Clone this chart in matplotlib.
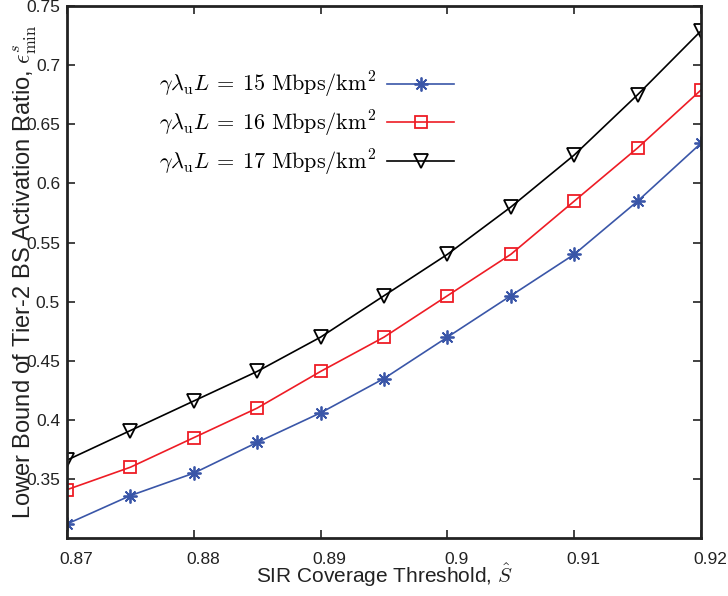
import matplotlib
matplotlib.use("Agg")
import matplotlib.pyplot as plt
import matplotlib.transforms as mtransforms

plt.rcParams['font.family'] = ['Liberation Sans', 'DejaVu Sans']
plt.rcParams['mathtext.fontset'] = 'cm'

x = [0.87, 0.875, 0.88, 0.885, 0.89, 0.895, 0.90, 0.905, 0.91, 0.915, 0.92]
y15 = [0.312, 0.336, 0.355, 0.381, 0.406, 0.435, 0.470, 0.505, 0.540, 0.585, 0.634]
y16 = [0.341, 0.360, 0.385, 0.410, 0.441, 0.470, 0.505, 0.540, 0.585, 0.630, 0.679]
y17 = [0.366, 0.391, 0.416, 0.441, 0.470, 0.505, 0.540, 0.580, 0.624, 0.675, 0.729]
labels = [r'$\gamma\lambda_{\mathrm{u}}L\:=\:15\ \mathrm{Mbps/km}^2$',
          r'$\gamma\lambda_{\mathrm{u}}L\:=\:16\ \mathrm{Mbps/km}^2$',
          r'$\gamma\lambda_{\mathrm{u}}L\:=\:17\ \mathrm{Mbps/km}^2$']
xticks = [0.87, 0.88, 0.89, 0.90, 0.91, 0.92]
xticklabels = ['0.87', '0.88', '0.89', '0.9', '0.91', '0.92']
yticks = [0.35, 0.40, 0.45, 0.50, 0.55, 0.60, 0.65, 0.70, 0.75]
yticklabels = ['0.35', '0.4', '0.45', '0.5', '0.55', '0.6', '0.65', '0.7', '0.75']

fig = plt.figure(figsize=(7.28, 5.96), dpi=100)
ax = fig.add_axes([0.092, 0.097, 0.871, 0.893])

ax.plot(x, y15, color='#3a56a8', lw=1.2, marker=(8, 2, 0), ms=10, mew=1.3, label=labels[0])
ax.plot(x, y16, color='#ee1c25', lw=1.2, marker='s', ms=9, mfc='none', mew=1.3, label=labels[1])
ax.plot(x, y17, color='black', lw=1.2, marker='v', ms=10, mfc='none', mew=1.3, label=labels[2])

ax.set_xlim(0.87, 0.92)
ax.set_ylim(0.30, 0.75)
ax.set_xticks(xticks)
ax.set_xticklabels(xticklabels)
ax.set_yticks(yticks)
ax.set_yticklabels(yticklabels)
ax.tick_params(direction='in', top=True, right=True, labelsize=12.5, length=6, width=1.2,
               colors='#222222')
ax.tick_params(axis='x', pad=10)
ax.tick_params(axis='y', pad=5)
for s in ax.spines.values():
    s.set_linewidth(2)
    s.set_color('#222222')

# shift x tick labels slightly to the right as in reference
offset = mtransforms.ScaledTranslation(9 / 100, 0, fig.dpi_scale_trans)
for lbl in ax.get_xticklabels():
    lbl.set_transform(lbl.get_transform() + offset)

ax.set_xlabel(r'SIR Coverage Threshold, $\hat{S}$', fontsize=15, color='#222222')
ax.xaxis.set_label_coords(0.5, -0.044)
ax.set_ylabel(r'Lower Bound of Tier-2 BS Activation Ratio, $\epsilon^s_{\min}$', fontsize=17, color='#222222')
ax.yaxis.set_label_coords(-0.044, 0.5)

leg = ax.legend(loc='upper left', bbox_to_anchor=(0.145, 0.88), frameon=False, markerfirst=False,
                fontsize=16, handlelength=3.0, labelspacing=0.4, handletextpad=0.5, borderpad=0,
                borderaxespad=0)

fig.savefig('out.png', dpi=100)
